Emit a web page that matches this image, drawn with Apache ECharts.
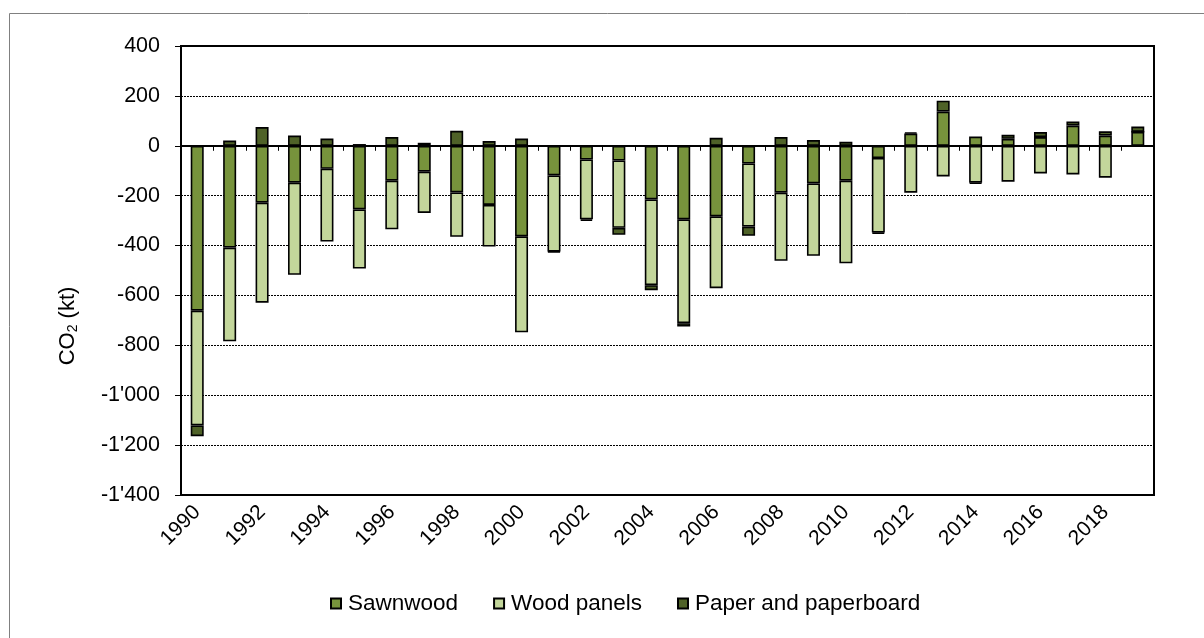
<!DOCTYPE html>
<html>
<head>
<meta charset="utf-8">
<script src="https://cdn.jsdelivr.net/npm/echarts@6/dist/echarts.min.js"></script>
<style>
html,body{margin:0;padding:0;background:#fff;}
#c{width:1204px;height:638px;}
</style>
</head>
<body>
<div id="c"></div>
<script>
const years = ['1990','1991','1992','1993','1994','1995','1996','1997','1998','1999',
  '2000','2001','2002','2003','2004','2005','2006','2007','2008','2009',
  '2010','2011','2012','2013','2014','2015','2016','2017','2018','2019'];
const sawnwood = [-661,-408,-228,-148,-92,-255,-140,-104,-187,-237,
  -363,-119,-55,-59,-215,-295,-283,-71,-188,-151,
  -140,-49,49,137,37,28,35,81,41,56];
const woodPanels = [-460,-376,-401,-369,-292,-237,-195,-165,-178,-167,
  -385,-305,-240,-270,-344,-416,-288,-253,-273,-290,
  -331,-299,-188,-123,-148,-144,-111,-115,-128,0];
const paper = [-43,21,75,41,29,7,35,12,60,19,
  29,-3,-6,-28,-20,-14,32,-37,35,23,
  16,-4,5,44,-4,16,20,16,17,21];
const yTicks = {min:-1400, max:400, interval:200};

const FONT = 'Liberation Sans, Arial, sans-serif';
const fmt = v => String(v).replace(/\B(?=(\d{3})+(?!\d))/g, "'");

const chart = echarts.init(document.getElementById('c'), null, {renderer:'canvas'});
const mk = (name, data, color) => ({
  name, type:'bar', stack:'total', data, barWidth:13,
  itemStyle:{color, borderColor:'#000', borderWidth:1.6},
  emphasis:{disabled:true}, animation:false
});
chart.setOption({
  animation:false,
  textStyle:{fontFamily:FONT},
  grid:{left:181, right:50, top:46, bottom:143, show:true, borderColor:'#000', borderWidth:2},
  legend:{
    left:325, top:587, itemWidth:10, itemHeight:10, itemGap:35,
    icon:'rect',
    textStyle:{fontFamily:FONT, fontSize:22.5, color:'#000', padding:[0,0,0,2]},
    data:['Sawnwood','Wood panels','Paper and paperboard']
  },
  xAxis:{
    type:'category', data:years, boundaryGap:true,
    axisLine:{lineStyle:{color:'#000', width:2}},
    axisTick:{show:true, interval:0, length:5, lineStyle:{color:'#000', width:1}},
    axisLabel:{interval:1, rotate:45, fontFamily:FONT, fontSize:21, color:'#000', margin:14},
    splitLine:{show:false}
  },
  yAxis:{
    type:'value', min:yTicks.min, max:yTicks.max, interval:yTicks.interval,
    axisLine:{show:true, lineStyle:{color:'#000', width:2}},
    axisTick:{show:true, length:6, lineStyle:{color:'#000', width:1}},
    axisLabel:{fontFamily:FONT, fontSize:21.5, color:'#000', margin:21, formatter:fmt},
    splitLine:{show:true, lineStyle:{color:'#000', width:1, type:[2,1]}}
  },
  graphic:[
    {type:'rect', shape:{x:9.5, y:13.5, width:1300, height:700}, style:{fill:'none', stroke:'#808080', lineWidth:1}, silent:true},
    {type:'text', x:68, y:326, rotation:Math.PI/2, style:{
      text:'{a|CO}{s|2}{a| (kt)}', align:'center', verticalAlign:'middle',
      rich:{a:{fontFamily:FONT, fontSize:22, fill:'#000'}, s:{fontFamily:FONT, fontSize:14, fill:'#000', padding:[11,0,0,0]}}
    }}
  ],
  series:[
    mk('Sawnwood', sawnwood, '#77933C'),
    mk('Wood panels', woodPanels, '#C3D69B'),
    mk('Paper and paperboard', paper, '#4F6228')
  ]
});
</script>
</body>
</html>
